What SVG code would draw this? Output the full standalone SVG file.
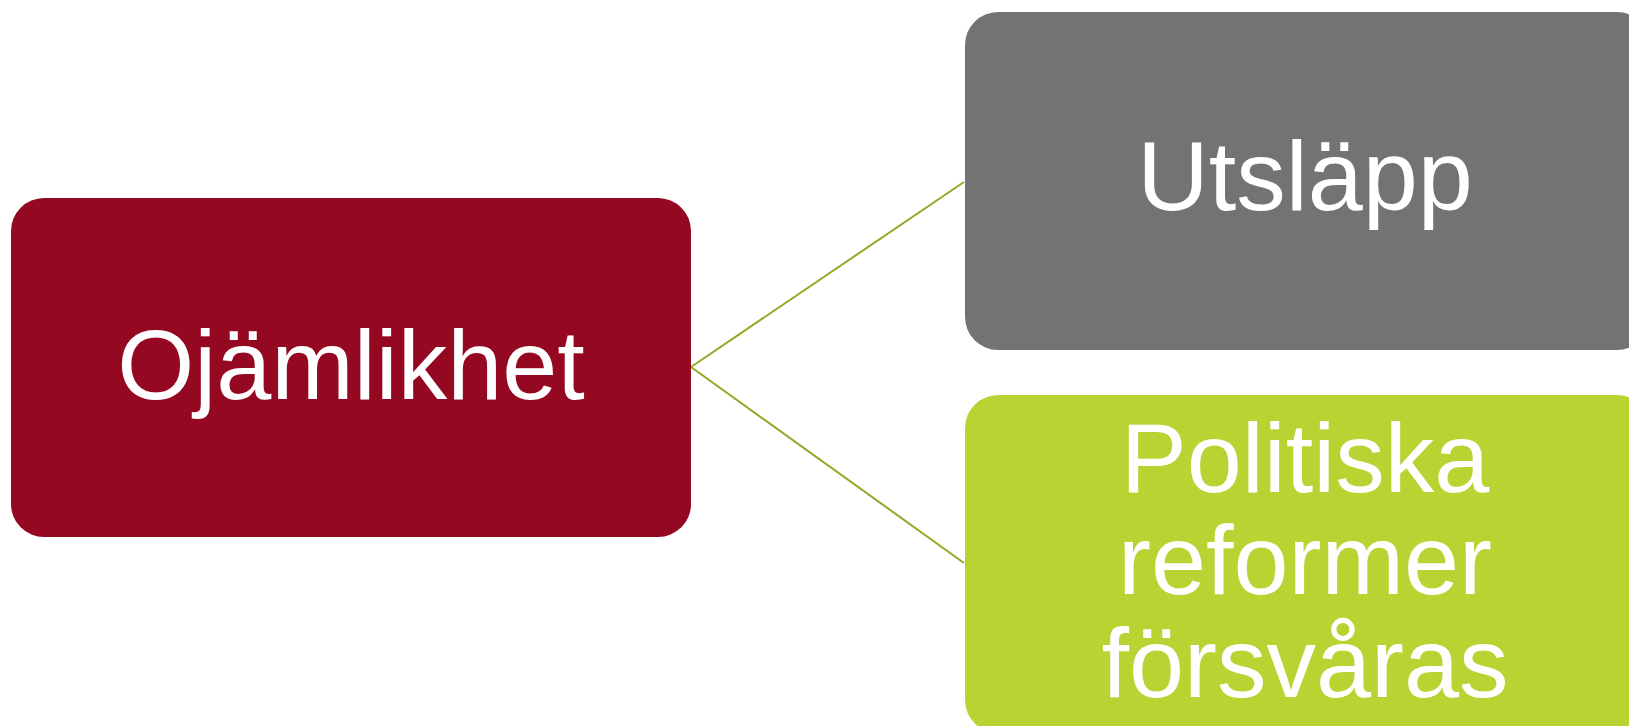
<svg xmlns="http://www.w3.org/2000/svg" width="1629" height="726" viewBox="0 0 1629 726">
  <style>
    .lbl { font-family: "Liberation Sans", Arial, sans-serif; fill: #ffffff; text-anchor: middle; }
    .conn { stroke: #8faa26; stroke-width: 2; fill: none; }
  </style>
  <rect width="1629" height="726" fill="#ffffff"/>
  <g id="connectors">
    <line class="conn" x1="691" y1="367" x2="964" y2="182"/>
    <line class="conn" x1="691" y1="367" x2="964" y2="563"/>
  </g>
  <g id="node-ojamlikhet">
    <rect x="11" y="198" width="680" height="339" rx="33" ry="33" fill="#950822"/>
    <text class="lbl" x="351" y="399" font-size="99">Ojämlikhet</text>
  </g>
  <g id="node-utslapp">
    <rect x="965" y="12" width="685" height="338" rx="33" ry="33" fill="#737373"/>
    <text class="lbl" x="1305" y="210" font-size="99">Utsläpp</text>
  </g>
  <g id="node-politiska">
    <rect x="965" y="395" width="685" height="338" rx="33" ry="33" fill="#bad332"/>
    <text class="lbl" x="1305" y="492" font-size="99">Politiska</text>
    <text class="lbl" x="1305" y="594" font-size="99">reformer</text>
    <text class="lbl" x="1305" y="697" font-size="99">försvåras</text>
  </g>
</svg>
